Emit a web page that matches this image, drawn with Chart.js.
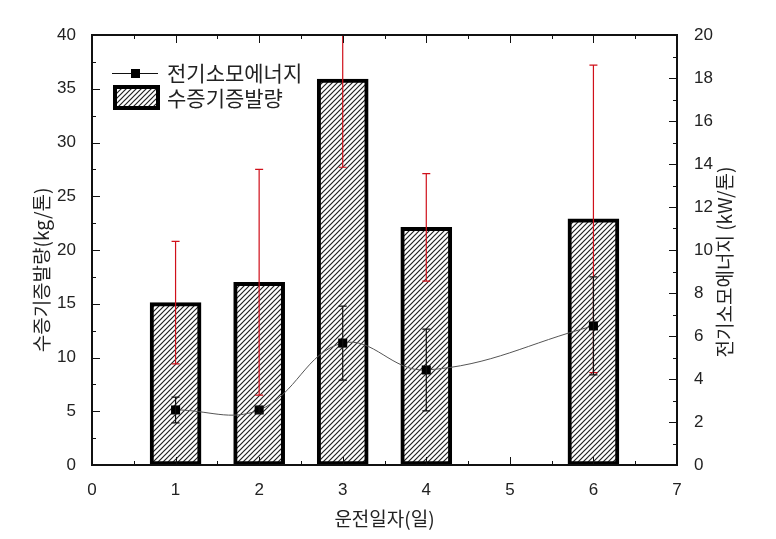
<!DOCTYPE html>
<html>
<head>
<meta charset="utf-8">
<script src="https://cdn.jsdelivr.net/npm/chart.js@4.4.1/dist/chart.umd.min.js"></script>
<style>
  html, body { margin: 0; padding: 0; background: #fff; }
</style>
</head>
<body>
<canvas id="grafico" width="776" height="539"></canvas>
<script>
// datos
const dias = [1, 2, 3, 4, 6];
const evaporacion = [15.1, 17.0, 35.9, 22.1, 22.9];      // kg/톤 (eje izquierdo)
const evaporacionErr = [5.7, 10.5, 8.2, 5.0, 14.3];
const energia = [2.56, 2.56, 5.67, 4.42, 6.47];          // kW/톤 (eje derecho)
const energiaErr = [0.6, 0.15, 1.72, 1.9, 2.28];

const ticksX = [0, 1, 2, 3, 4, 5, 6, 7];
const ticksIzq = [0, 5, 10, 15, 20, 25, 30, 35, 40];
const ticksDer = [0, 2, 4, 6, 8, 10, 12, 14, 16, 18, 20];

const etiquetaEnergia = '전기소모에너지';
const etiquetaEvap = '수증기증발량';
const tituloX = '운전일자(일)';
const tituloIzq = '수증기증발량(kg/톤)';
const tituloDer = '전기소모에너지 (kW/톤)';

const fuenteNum = "'Liberation Sans', Arial, sans-serif";
const fuenteKor = "'Noto Sans CJK KR', 'Liberation Sans', sans-serif";

function crearTrama(ctx) {
    const c = document.createElement('canvas');
    c.width = 5; c.height = 5;
    const g = c.getContext('2d');
    g.fillStyle = '#fff';
    g.fillRect(0, 0, 5, 5);
    g.strokeStyle = '#222';
    g.lineWidth = 1.2;
    g.beginPath();
    g.moveTo(0, 5); g.lineTo(5, 0);
    g.moveTo(-1, 1); g.lineTo(1, -1);
    g.moveTo(4, 6); g.lineTo(6, 4);
    g.stroke();
    return ctx.createPattern(c, 'repeat');
}

const ctx = document.getElementById('grafico').getContext('2d');
const trama = crearTrama(ctx);

function dibujarError(chart, valores, errores, color, ancho, escalaY) {
    const c = chart.ctx;
    const area = chart.chartArea;
    const sx = chart.scales.x;
    const sy = chart.scales[escalaY];
    c.save();
    c.beginPath();
    c.rect(area.left, area.top, area.right - area.left, area.bottom - area.top);
    c.clip();
    c.strokeStyle = color;
    c.lineWidth = ancho;
    dias.forEach((d, i) => {
        const x = sx.getPixelForValue(d);
        const y1 = sy.getPixelForValue(valores[i] + errores[i]);
        const y2 = sy.getPixelForValue(valores[i] - errores[i]);
        c.beginPath();
        c.moveTo(x, y1); c.lineTo(x, y2);
        c.moveTo(x - 4, y1); c.lineTo(x + 4, y1);
        c.moveTo(x - 4, y2); c.lineTo(x + 4, y2);
        c.stroke();
    });
    c.restore();
}

const pluginErrores = {
    id: 'errores',
    afterDatasetDraw(chart, args) {
        if (args.index === 0) {
            dibujarError(chart, evaporacion, evaporacionErr, '#d0101a', 1.2, 'y');
        } else if (args.index === 1) {
            dibujarError(chart, energia, energiaErr, '#111', 1.2, 'y2');
        }
    }
};

function marcas(c, escala, valores, menor, lado, area) {
    valores.forEach((v, i) => {
        const p = Math.round(escala.getPixelForValue(v)) + 0.5;
        c.beginPath();
        if (lado === 'abajo') { c.moveTo(p, area.bottom); c.lineTo(p, area.bottom - 8); }
        if (lado === 'arriba') { c.moveTo(p, area.top); c.lineTo(p, area.top + 8); }
        if (lado === 'izq') { c.moveTo(area.left, p); c.lineTo(area.left + 8, p); }
        if (lado === 'der') { c.moveTo(area.right, p); c.lineTo(area.right - 8, p); }
        c.stroke();
        if (i < valores.length - 1) {
            const m = Math.round(escala.getPixelForValue(v + menor)) + 0.5;
            c.beginPath();
            if (lado === 'abajo') { c.moveTo(m, area.bottom); c.lineTo(m, area.bottom - 4); }
            if (lado === 'arriba') { c.moveTo(m, area.top); c.lineTo(m, area.top + 4); }
            if (lado === 'izq') { c.moveTo(area.left, m); c.lineTo(area.left + 4, m); }
            if (lado === 'der') { c.moveTo(area.right, m); c.lineTo(area.right - 4, m); }
            c.stroke();
        }
    });
}

function textoGirado(c, texto, x, y) {
    c.save();
    c.translate(x, y);
    c.rotate(-Math.PI / 2);
    c.fillText(texto, 0, 0);
    c.restore();
}

const pluginMarco = {
    id: 'marco',
    afterDraw(chart) {
        const c = chart.ctx;
        const a = chart.chartArea;
        c.save();
        c.strokeStyle = '#111';
        c.lineWidth = 1;
        marcas(c, chart.scales.x, ticksX, 0.5, 'abajo', a);
        marcas(c, chart.scales.x, ticksX, 0.5, 'arriba', a);
        marcas(c, chart.scales.y, ticksIzq, 2.5, 'izq', a);
        marcas(c, chart.scales.y2, ticksDer, 1, 'der', a);
        c.lineWidth = 2;
        c.strokeRect(a.left, a.top, a.right - a.left, a.bottom - a.top);

        // titulos de ejes
        c.fillStyle = '#222';
        c.font = '19px ' + fuenteKor;
        c.textAlign = 'center';
        c.textBaseline = 'middle';
        c.fillText(tituloX, (a.left + a.right) / 2, 519);
        textoGirado(c, tituloIzq, 42, 270);
        textoGirado(c, tituloDer, 725, 262);

        // leyenda
        c.strokeStyle = '#111';
        c.lineWidth = 1;
        c.beginPath();
        c.moveTo(112, 73.5); c.lineTo(158, 73.5);
        c.stroke();
        c.fillStyle = '#000';
        c.fillRect(131, 69, 9, 9);
        c.fillStyle = trama;
        c.fillRect(113, 85, 47, 25);
        c.lineWidth = 4;
        c.strokeStyle = '#000';
        c.strokeRect(115, 87, 43, 21);
        c.fillStyle = '#222';
        c.font = '21px ' + fuenteKor;
        c.textAlign = 'left';
        c.fillText(etiquetaEnergia, 167, 73);
        c.fillText(etiquetaEvap, 167, 98);
        c.restore();
    }
};

new Chart(ctx, {
    type: 'bar',
    data: {
        datasets: [{
            type: 'bar',
            label: etiquetaEvap,
            data: dias.map((d, i) => ({ x: d, y: evaporacion[i] })),
            backgroundColor: trama,
            borderColor: '#000',
            borderWidth: 4,
            borderSkipped: false,
            barThickness: 51,
            yAxisID: 'y',
            order: 2
        }, {
            type: 'line',
            label: etiquetaEnergia,
            data: dias.map((d, i) => ({ x: d, y: energia[i] })),
            borderColor: '#555',
            borderWidth: 1,
            tension: 0.4,
            pointStyle: 'rect',
            pointRadius: 6.4,
            pointBackgroundColor: '#000',
            pointBorderWidth: 0,
            yAxisID: 'y2',
            order: 1
        }]
    },
    options: {
        responsive: false,
        animation: false,
        layout: { padding: { top: 35, left: 0, right: 0, bottom: 0 } },
        plugins: {
            legend: { display: false },
            tooltip: { enabled: false }
        },
        scales: {
            x: {
                type: 'linear',
                min: 0,
                max: 7,
                offset: false,
                grid: { display: false, offset: false },
                border: { display: false },
                afterBuildTicks: s => { s.ticks = ticksX.map(v => ({ value: v })); },
                afterFit: s => { s.height = 74; },
                ticks: { color: '#222', padding: 7, maxRotation: 0, font: { family: fuenteNum, size: 17 } }
            },
            y: {
                position: 'left',
                min: 0,
                max: 40,
                grid: { display: false },
                border: { display: false },
                afterBuildTicks: s => { s.ticks = ticksIzq.map(v => ({ value: v })); },
                afterFit: s => { s.width = 92; },
                ticks: { color: '#222', padding: 8, font: { family: fuenteNum, size: 17 } }
            },
            y2: {
                position: 'right',
                min: 0,
                max: 20,
                grid: { display: false },
                border: { display: false },
                afterBuildTicks: s => { s.ticks = ticksDer.map(v => ({ value: v })); },
                afterFit: s => { s.width = 99; },
                ticks: { color: '#222', padding: 9, font: { family: fuenteNum, size: 17 } }
            }
        }
    },
    plugins: [pluginErrores, pluginMarco]
});
</script>
</body>
</html>
